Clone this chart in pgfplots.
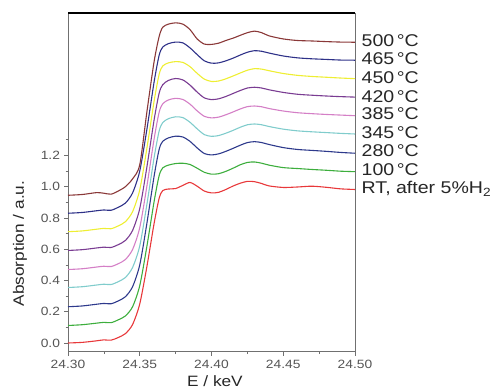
\documentclass[border=0pt]{standalone}
\usepackage{fontspec}
\setmainfont{Liberation Sans}[FakeStretch=1.15]
\usepackage{pgfplots}
\usepackage{pgfplotstable}
\pgfplotsset{compat=1.18}
\definecolor{cRT}{HTML}{E8383A}
\definecolor{cA}{HTML}{3DAE3D}
\definecolor{cB}{HTML}{2E3A8C}
\definecolor{cC}{HTML}{80CCCC}
\definecolor{cD}{HTML}{D47FC6}
\definecolor{cE}{HTML}{7A3C92}
\definecolor{cF}{HTML}{EEEE33}
\definecolor{cG}{HTML}{2E3188}
\definecolor{cH}{HTML}{8A3838}
\definecolor{axgray}{HTML}{707070}
\definecolor{tkgray}{HTML}{555555}
\pgfplotstableread{
x rt c100 c280 c345 c385 c420 c450 c465 c500
24.300 0.000 0.112 0.232 0.355 0.470 0.592 0.712 0.830 0.945
24.310 0.004 0.117 0.237 0.360 0.475 0.597 0.717 0.835 0.950
24.320 0.014 0.127 0.248 0.371 0.486 0.608 0.728 0.846 0.962
24.325 0.020 0.132 0.253 0.376 0.491 0.613 0.733 0.851 0.958
24.330 0.018 0.130 0.251 0.374 0.489 0.611 0.731 0.849 0.952
24.335 0.035 0.148 0.269 0.392 0.507 0.629 0.749 0.868 0.972
24.340 0.060 0.173 0.296 0.419 0.534 0.656 0.776 0.895 1.000
24.345 0.118 0.232 0.360 0.483 0.598 0.720 0.840 0.960 1.050
24.350 0.250 0.367 0.500 0.621 0.738 0.860 0.980 1.100 1.140
24.355 0.490 0.620 0.767 0.888 1.005 1.127 1.247 1.368 1.480
24.360 0.765 0.905 1.067 1.186 1.305 1.427 1.547 1.670 1.800
24.3635 0.925 1.070 1.238 1.356 1.476 1.598 1.718 1.840 1.960
24.366 0.975 1.120 1.290 1.410 1.530 1.652 1.772 1.893 2.020
24.370 0.985 1.138 1.312 1.435 1.555 1.680 1.792 1.915 2.040
24.375 0.988 1.148 1.323 1.447 1.565 1.692 1.800 1.925 2.048
24.380 1.008 1.150 1.318 1.442 1.558 1.683 1.795 1.920 2.040
24.385 1.027 1.142 1.290 1.412 1.528 1.650 1.768 1.888 2.005
24.390 1.003 1.118 1.248 1.370 1.485 1.605 1.725 1.845 1.945
24.395 0.972 1.092 1.212 1.333 1.450 1.568 1.688 1.805 1.912
24.400 0.960 1.080 1.203 1.322 1.440 1.557 1.673 1.790 1.910
24.405 0.964 1.083 1.210 1.327 1.445 1.562 1.676 1.792 1.918
24.410 0.982 1.098 1.226 1.342 1.460 1.577 1.690 1.805 1.935
24.415 1.004 1.118 1.245 1.360 1.478 1.596 1.708 1.822 1.950
24.420 1.022 1.140 1.265 1.380 1.497 1.615 1.727 1.842 1.968
24.425 1.034 1.155 1.282 1.396 1.512 1.631 1.745 1.860 1.985
24.430 1.032 1.158 1.288 1.401 1.516 1.636 1.755 1.870 1.995
24.435 1.020 1.150 1.282 1.396 1.511 1.631 1.752 1.866 1.985
24.440 1.005 1.138 1.270 1.385 1.500 1.620 1.742 1.855 1.965
24.450 0.995 1.122 1.250 1.368 1.484 1.603 1.724 1.836 1.945
24.460 0.998 1.116 1.238 1.357 1.473 1.591 1.712 1.824 1.935
24.470 1.003 1.110 1.232 1.351 1.467 1.585 1.705 1.818 1.932
24.480 0.996 1.105 1.226 1.346 1.462 1.580 1.700 1.814 1.928
24.490 0.986 1.099 1.219 1.341 1.458 1.576 1.695 1.810 1.925
24.500 0.982 1.096 1.214 1.337 1.454 1.573 1.691 1.809 1.924
}\datatable
\begin{document}
\begin{tikzpicture}
\useasboundingbox (0,0) rectangle (497bp,392bp);
\begin{axis}[
  at={(68bp,40.5bp)}, anchor=south west,
  scale only axis, width=287bp, height=338.5bp,
  xmin=24.30, xmax=24.50, ymin=-0.0544, ymax=2.111,
  clip=false,
  axis line style={axgray, line width=0.6bp},
  tick align=outside,
  xtick pos=bottom, ytick pos=left,
  major tick length=4bp, minor tick length=2.5bp,
  tick style={axgray, line width=0.6bp},
  xtick={24.30,24.35,24.40,24.45,24.50},
  xticklabels={24.30,24.35,24.40,24.45,24.50},
  minor xtick={24.325,24.375,24.425,24.475},
  ytick={0,0.2,0.4,0.6,0.8,1.0,1.2},
  yticklabels={0.0,0.2,0.4,0.6,0.8,1.0,1.2},
  minor ytick={0.1,0.3,0.5,0.7,0.9,1.1,1.3},
  tick label style={font=\fontsize{12bp}{14bp}\selectfont, text=tkgray},
  xticklabel style={yshift=-1bp},
  yticklabel style={xshift=-0.5bp},
  xlabel={E / keV},
  ylabel={Absorption / a.u.},
  every axis x label/.style={at={(axis description cs:0.512,-0.087)}, anchor=center, font=\fontsize{15bp}{17bp}\selectfont, text=black!85},
  every axis y label/.style={at={(axis description cs:-0.167,0.319)}, anchor=center, rotate=90, font=\fontsize{15bp}{17bp}\selectfont, text=black!85},
  every axis plot/.append style={line width=1.1bp, smooth, tension=0.45},
]
\addplot[cRT] table[x=x,y=rt] {\datatable};
\addplot[cA] table[x=x,y=c100] {\datatable};
\addplot[cB] table[x=x,y=c280] {\datatable};
\addplot[cC] table[x=x,y=c345] {\datatable};
\addplot[cD] table[x=x,y=c385] {\datatable};
\addplot[cE] table[x=x,y=c420] {\datatable};
\addplot[cF] table[x=x,y=c450] {\datatable};
\addplot[cG] table[x=x,y=c465] {\datatable};
\addplot[cH] table[x=x,y=c500] {\datatable};
\draw[black, line width=1.3bp] (rel axis cs:0,1) -- (rel axis cs:1,1);
\begin{scope}[every node/.style={anchor=base west, xshift=6.5bp, yshift=-6bp, inner sep=0pt, font=\fontsize{17bp}{18bp}\selectfont, text=black!85}]
\node at (axis cs:24.50,1.932) {500\hspace{2.5bp}°C};
\node at (axis cs:24.50,1.817) {465\hspace{2.5bp}°C};
\node at (axis cs:24.50,1.699) {450\hspace{2.5bp}°C};
\node at (axis cs:24.50,1.580) {420\hspace{2.5bp}°C};
\node at (axis cs:24.50,1.465) {385\hspace{2.5bp}°C};
\node at (axis cs:24.50,1.346) {345\hspace{2.5bp}°C};
\node at (axis cs:24.50,1.230) {280\hspace{2.5bp}°C};
\node at (axis cs:24.50,1.113) {100\hspace{2.5bp}°C};
\node at (axis cs:24.50,0.995) {RT, after 5\%H\textsubscript{2}};
\end{scope}
\end{axis}
\end{tikzpicture}
\end{document}
